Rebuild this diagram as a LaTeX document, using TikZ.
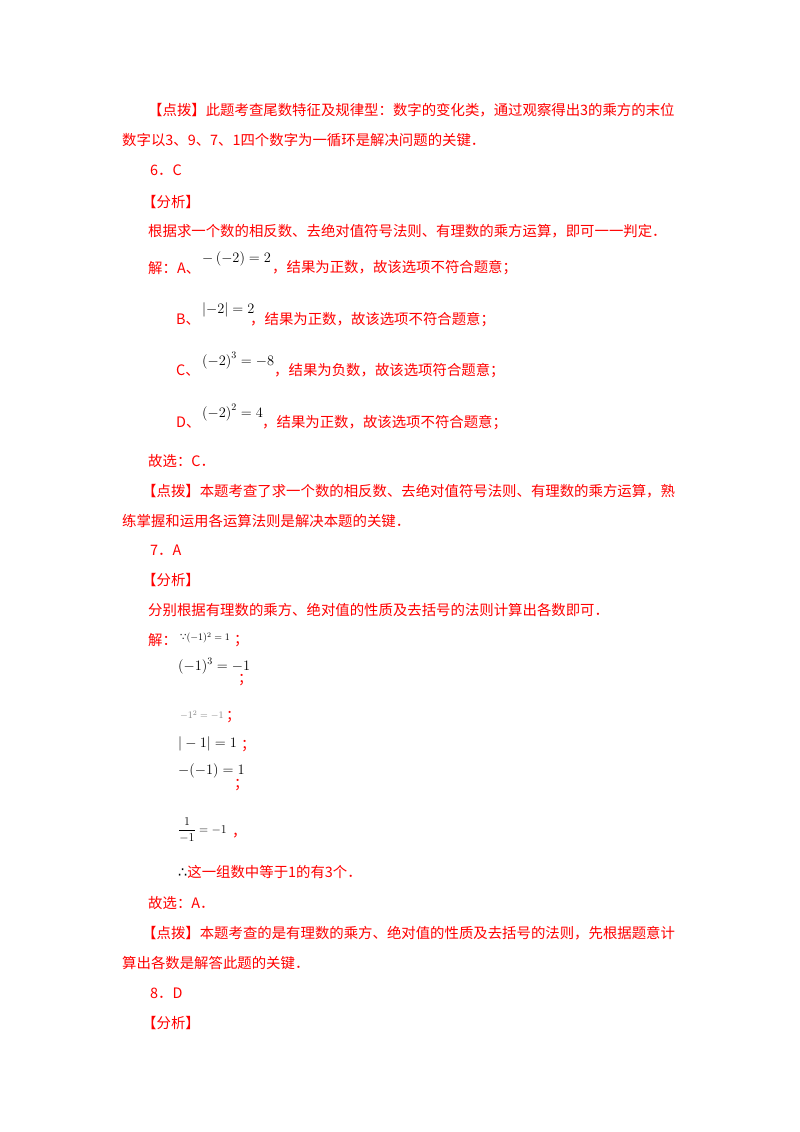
\documentclass[tikz,border=0pt]{standalone}
\usepackage{amsmath}
\usepackage{fontspec}
\setmainfont{Liberation Serif}
\newfontfamily\cjk{Noto Sans CJK SC}
\newfontfamily\symf{DejaVu Sans}
\begin{document}
\begin{tikzpicture}[x=1pt,y=-1pt,
  t/.style={anchor=west,inner sep=0pt,text=red,font=\cjk\fontsize{14.4}{16}\selectfont},
  m/.style={anchor=west,inner sep=0pt,text=black,font=\fontsize{14}{16}\selectfont},
  sm/.style={anchor=west,inner sep=0pt,text=black,font=\fontsize{10}{12}\selectfont}]
\useasboundingbox[fill=white] (0,0) rectangle (800,1132);
\node[t] (l1) at (148,110) {【点拨】此题考查尾数特征及规律型：数字的变化类，通过观察得出3的乘方的末位};
\node[t] (l2) at (122,140) {数字以3、9、7、1四个数字为一循环是解决问题的关键．};
\node[t] (l3) at (150,170) {6．C};
\node[t] (l4) at (142,202) {【分析】};
\node[t] (l5) at (148,231) {根据求一个数的相反数、去绝对值符号法则、有理数的乘方运算，即可一一判定．};
\node[t] (a1) at (148,268) {解：A、};
\node[m] (a2) at (202,259) {$-\left(-2\right)=2$};
\node[t] (a3) at (272,268) {，结果为正数，故该选项不符合题意；};
\node[t] (b1) at (176,320) {B、};
\node[m] (b2) at (202,310) {$\left|-2\right|=2$};
\node[t] (b3) at (250,320) {，结果为正数，故该选项不符合题意；};
\node[t] (c1) at (176,371) {C、};
\node[m] (c2) at (202,361) {$\left(-2\right)^3=-8$};
\node[t] (c3) at (274,371) {，结果为负数，故该选项符合题意；};
\node[t] (d1) at (176,423) {D、};
\node[m] (d2) at (202,413) {$\left(-2\right)^2=4$};
\node[t] (d3) at (262,423) {，结果为正数，故该选项不符合题意；};
\node[t] (e1) at (148,461) {故选：C．};
\node[t] (e2) at (142,491) {【点拨】本题考查了求一个数的相反数、去绝对值符号法则、有理数的乘方运算，熟};
\node[t] (e3) at (122,521) {练掌握和运用各运算法则是解决本题的关键．};
\node[t] (e4) at (150,550) {7．A};
\node[t] (e5) at (142,580) {【分析】};
\node[t] (e6) at (148,610) {分别根据有理数的乘方、绝对值的性质及去括号的法则计算出各数即可．};
\node[t] (f1) at (148,640) {解：};
\node[sm] (f2) at (180,638) {{\symf ∵}$(-1)^2=1$};
\node[t] (f3) at (234,641) {；};
\node[m] (g1) at (178,666) {$(-1)^3=-1$};
\node[t] (g2) at (238,680) {；};
\node[sm,text=gray] (h1) at (180,715) {$-1^2=-1$};
\node[t] (h2) at (226,717) {；};
\node[m] (i1) at (178,744) {$|-1|=1$};
\node[t] (i2) at (241,746) {；};
\node[m] (j1) at (178,771) {$-(-1)=1$};
\node[t] (j2) at (234,785) {；};
\node[anchor=west,inner sep=0pt,font=\fontsize{12}{14}\selectfont] (k1) at (178,830) {$\dfrac{1}{-1}=-1$};
\node[t] (k2) at (232,836) {，};
\node[t] (k3) at (178,872) {{\symf\color{black}∴}这一组数中等于1的有3个．};
\node[t] (n1) at (148,903) {故选：A．};
\node[t] (n2) at (142,933) {【点拨】本题考查的是有理数的乘方、绝对值的性质及去括号的法则，先根据题意计};
\node[t] (n3) at (122,963) {算出各数是解答此题的关键．};
\node[t] (n4) at (150,993) {8．D};
\node[t] (n5) at (142,1023) {【分析】};
\end{tikzpicture}
\end{document}
